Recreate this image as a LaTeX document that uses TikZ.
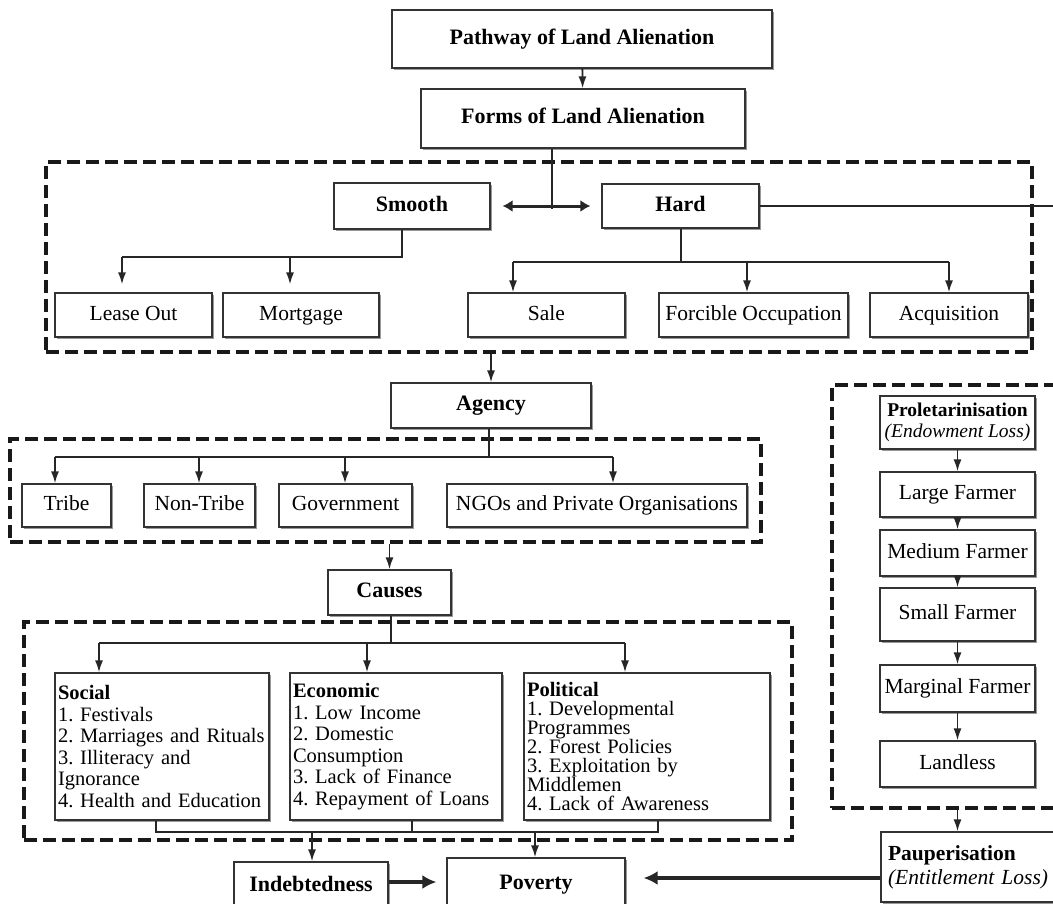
\documentclass[tikz,border=0pt]{standalone}
\usepackage{fontspec}
\setmainfont{Liberation Serif}
\usetikzlibrary{arrows.meta,shadows}
\frenchspacing

\begin{document}
\begin{tikzpicture}
		[x=1pt, y=-1pt,
		boxsty/.style={draw=black!80, line width=1.2pt, fill=white, inner sep=2pt,
			drop shadow={shadow xshift=1.5pt, shadow yshift=-2pt, fill=black!40, opacity=1},
			font=\fontsize{21.5}{24}\selectfont},
		onesty/.style={boxsty, text height=14.5pt, text depth=4.5pt},
		headsty/.style={onesty, font=\fontsize{22}{24}\selectfont\bfseries},
		liststy/.style={boxsty, align=left, inner xsep=3pt, font=\fontsize{20.5}{21.6}\selectfont},
		grpsty/.style={draw=black!90, line width=4pt, dash pattern=on 13pt off 6pt, inner sep=0pt},
		linesty/.style={draw=black!85, line width=1.8pt},
		arrsty/.style={linesty, -{Latex[length=12pt,width=8pt]}},
		bigarr/.style={draw=black!85, line width=4pt, -{Latex[length=14pt,width=14pt]}},
		dblarr/.style={draw=black!85, line width=3pt,
			{Latex[length=10pt,width=12pt]}-{Latex[length=10pt,width=12pt]}}]
		\useasboundingbox (0,0) rectangle (1053,903);
		
		% dashed groups
		\node (formgrp) at (539,257) [grpsty, minimum width=986pt, minimum height=190pt] {};
		\node (agentgrp) at (385.5,490.5) [grpsty, minimum width=751pt, minimum height=103pt] {};
		\node (causegrp) at (408,731) [grpsty, minimum width=768pt, minimum height=218pt] {};
		\node (prolgrp) at (953.5,596.5) [grpsty, minimum width=243pt, minimum height=423pt] {};
		
		% forms
		\node (path) at (582,39) [headsty, minimum width=380pt, minimum height=58pt] {Pathway of Land Alienation};
		\node (forms) at (583,118.5) [headsty, minimum width=324pt, minimum height=59pt] {Forms of Land Alienation};
		\node (smooth) at (412,206) [headsty, minimum width=156pt, minimum height=46pt] {Smooth};
		\node (hard) at (680.5,206) [headsty, minimum width=157pt, minimum height=44pt] {Hard};
		\node (lease) at (133.5,315) [onesty, minimum width=157pt, minimum height=44pt] {Lease Out};
		\node (mortgage) at (301,315) [onesty, minimum width=156pt, minimum height=44pt] {Mortgage};
		\node (sale) at (546.5,315) [onesty, minimum width=157pt, minimum height=44pt] {Sale};
		\node (forcible) at (753.5,315) [onesty, minimum width=189pt, minimum height=44pt] {Forcible Occupation};
		\node (acquis) at (949,315) [onesty, minimum width=158pt, minimum height=44pt] {Acquisition};
		
		% agency
		\node (agency) at (491,405.5) [headsty, minimum width=200pt, minimum height=45pt] {Agency};
		\node (tribe) at (66.5,505.5) [onesty, minimum width=89pt, minimum height=43pt] {Tribe};
		\node (nontribe) at (199.5,505.5) [onesty, minimum width=111pt, minimum height=43pt] {Non-Tribe};
		\node (govt) at (345.5,505.5) [onesty, minimum width=133pt, minimum height=43pt] {Government};
		\node (ngo) at (597,505.5) [onesty, minimum width=300pt, minimum height=43pt] {NGOs and Private Organisations};
		
		% causes
		\node (causes) at (389.5,592.5) [headsty, minimum width=123pt, minimum height=45pt] {Causes};
		\node (social) at (162,746.5) [liststy, text width=208pt, minimum height=147pt]
			{\textbf{Social}\\1. Festivals\\2. Marriages and Rituals\\3. Illiteracy and\\Ignorance\\4. Health and Education};
		\node (economic) at (396,746.5) [liststy, text width=206pt, minimum height=147pt]
			{\textbf{Economic}\\1. Low Income\\2. Domestic\\Consumption\\3. Lack of Finance\\4. Repayment of Loans};
		\node (political) at (647,746.5) [liststy, text width=240pt, minimum height=147pt, font=\fontsize{20.5}{19}\selectfont]
			{\textbf{Political}\\1. Developmental\\Programmes\\2. Forest Policies\\3. Exploitation by\\Middlemen\\4. Lack of Awareness};
		\node (indebt) at (311,886) [headsty, minimum width=154pt, minimum height=48pt] {Indebtedness};
		\node (poverty) at (536,884) [headsty, minimum width=178pt, minimum height=52pt] {Poverty};
		
		% proletarinisation
		\node (prol) at (957.5,422.5) [boxsty, align=center, minimum width=155pt, minimum height=53pt,
			font=\fontsize{19.5}{21}\selectfont] {\textbf{Proletarinisation}\\\textit{(Endowment Loss)}};
		\node (large) at (957.5,494.5) [onesty, minimum width=155pt, minimum height=45pt] {Large Farmer};
		\node (medium) at (957.5,553) [onesty, minimum width=155pt, minimum height=46pt] {Medium Farmer};
		\node (small) at (957.5,614.5) [onesty, minimum width=155pt, minimum height=53pt] {Small Farmer};
		\node (marginal) at (957.5,688.5) [onesty, minimum width=155pt, minimum height=47pt] {Marginal Farmer};
		\node (landless) at (957.5,764) [onesty, minimum width=155pt, minimum height=46pt] {Landless};
		\node (pauper) at (970.5,867) [boxsty, align=left, inner xsep=7pt, text width=165pt, minimum height=70pt]
			{\textbf{Pauperisation}\\\textit{(Entitlement Loss)}};
		
		% junctions
		\coordinate (fj) at (552,209);
		\coordinate (hr) at (1060,206);
		\coordinate (sj) at (402,257);
		\coordinate (s1) at (122,257);
		\coordinate (s2) at (290,257);
		\coordinate (hj) at (681,262);
		\coordinate (h1) at (513,262);
		\coordinate (h2) at (747,262);
		\coordinate (h3) at (949,262);
		\coordinate (aj) at (489,457);
		\coordinate (a1) at (55,457);
		\coordinate (a2) at (199,457);
		\coordinate (a3) at (345,457);
		\coordinate (a4) at (613,457);
		\coordinate (cj) at (391,643);
		\coordinate (c1) at (99,643);
		\coordinate (c2) at (367,643);
		\coordinate (c3) at (625,643);
		\coordinate (b1) at (156,832);
		\coordinate (b2) at (412,832);
		\coordinate (b3) at (658,832);
		\coordinate (d1) at (312,832);
		\coordinate (d2) at (535,832);
		\coordinate (ip) at (0,882);
		\coordinate (pp) at (0,878);
		
		\draw[arrsty] (path) -- (forms);
		\draw[linesty] (forms.south -| fj) -- (fj);
		\draw[dblarr] ([xshift=12pt]smooth.east) -- ([xshift=-11pt]hard.west);
		\draw[linesty] (hard.east) -- (hr);
		
		\draw[linesty] (sj |- smooth.south) -- (sj) -- (s1);
		\draw[arrsty, shorten >=8pt] (s1) -- (s1 |- lease.north);
		\draw[arrsty, shorten >=8pt] (s2) -- (s2 |- mortgage.north);
		
		\draw[linesty] (hj |- hard.south) -- (hj);
		\draw[linesty] (h1) -- (h3);
		\draw[arrsty] (h1) -- (h1 |- sale.north);
		\draw[arrsty] (h2) -- (h2 |- forcible.north);
		\draw[arrsty] (h3) -- (h3 |- acquis.north);
		
		\draw[arrsty] (formgrp.south -| agency) -- (agency.north);
		\draw[linesty] (aj |- agency.south) -- (aj);
		\draw[linesty] (a1) -- (a4);
		\draw[arrsty] (a1) -- (a1 |- tribe.north);
		\draw[arrsty] (a2) -- (a2 |- nontribe.north);
		\draw[arrsty] (a3) -- (a3 |- govt.north);
		\draw[arrsty] (a4) -- (a4 |- ngo.north);
		
		\draw[arrsty] (agentgrp.south -| causes) -- (causes.north);
		\draw[linesty] (cj |- causes.south) -- (cj);
		\draw[linesty] (c1) -- (c3);
		\draw[arrsty] (c1) -- (c1 |- social.north);
		\draw[arrsty] (c2) -- (c2 |- economic.north);
		\draw[arrsty] (c3) -- (c3 |- political.north);
		
		\draw[linesty] (b1 |- social.south) -- (b1) -- (b3) -- (b3 |- political.south);
		\draw[linesty] (b2 |- economic.south) -- (b2);
		\draw[arrsty] (d1) -- (d1 |- indebt.north);
		\draw[arrsty] (d2) -- (d2 |- poverty.north);
		\draw[bigarr, shorten >=10pt] (indebt.east |- ip) -- (poverty.west |- ip);
		\draw[bigarr, shorten >=18pt] (pauper.west |- pp) -- (poverty.east |- pp);
		
		\draw[arrsty] (prol) -- (large);
		\draw[arrsty] (large) -- (medium);
		\draw[arrsty] (medium) -- (small);
		\draw[arrsty] (small) -- (marginal);
		\draw[arrsty] (marginal) -- (landless);
		\draw[arrsty] (prolgrp.south -| large) -- (pauper.north -| large);
	\end{tikzpicture}
\end{document}
